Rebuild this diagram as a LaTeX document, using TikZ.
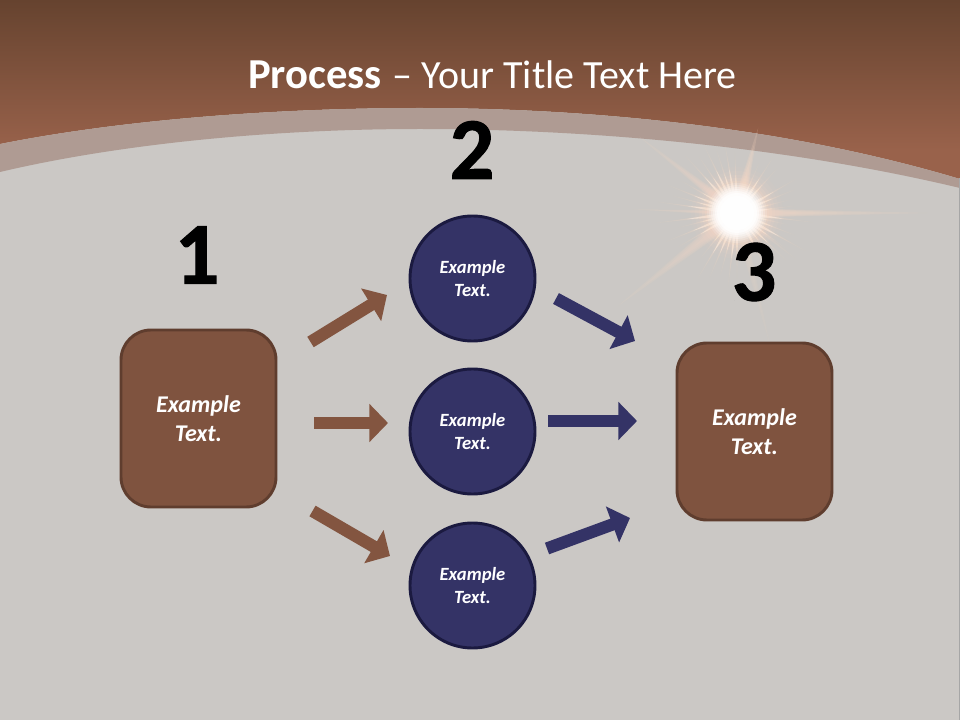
\documentclass[tikz,border=0pt]{standalone}
\usepackage{fontspec}
\setmainfont{Carlito}
\usetikzlibrary{arrows.meta}
\definecolor{bgc}{HTML}{CBC8C5}
\definecolor{brownf}{HTML}{7F533F}
\definecolor{brownl}{HTML}{5F3D2E}
\definecolor{arrowb}{HTML}{835540}
\definecolor{navyf}{HTML}{343366}
\definecolor{navyl}{HTML}{1B1A40}
\definecolor{rayc}{HTML}{FFDCC4}
\definecolor{rayw}{HTML}{FFF6EC}
\definecolor{headt}{HTML}{66432F}
\definecolor{headb}{HTML}{99624B}
\definecolor{bandc}{HTML}{AF9B93}
\tikzset{
  x=0.75pt,y=-0.75pt,
  boxnode/.style={draw=brownl,line width=2.2pt,fill=brownf,rounded corners=22.5pt,minimum width=116.25pt,minimum height=132.75pt,inner sep=0pt,align=center,text=white,font=\fontsize{18}{21.75}\selectfont\bfseries\itshape},
  circnode/.style={circle,draw=navyl,line width=2.2pt,fill=navyf,minimum size=93.75pt,inner sep=0pt,align=center,text=white,font=\fontsize{14}{17.25}\selectfont\bfseries\itshape},
  numnode/.style={inner sep=0pt,text=black,font=\fontsize{66}{70}\selectfont\bfseries\addfontfeature{FakeBold=1.2}},
  brownarrow/.style={draw=arrowb,line width=9.2pt,-{Triangle[length=14pt,width=28pt]}},
  navyarrow/.style={draw=navyf,line width=9.2pt,-{Triangle[length=14pt,width=28pt]}}
}
\begin{document}
\begin{tikzpicture}
\useasboundingbox (0,0) rectangle (960,720);
\fill[bgc] (0,0) rectangle (960,720);
% header
\begin{scope}
\clip (0,0) -- (960,0) -- (960,179) .. controls (780,125) and (580,108) .. (420,108) .. controls (260,108) and (110,122) .. (0,144) -- cycle;
\shade[top color=headt,bottom color=headb] (0,0) rectangle (960,150);
\fill[headb] (0,150) rectangle (960,180);
\end{scope}
% band
\fill[bandc] (0,144) .. controls (110,122) and (260,108) .. (420,108) .. controls (580,108) and (780,125) .. (960,179) -- (960,188) .. controls (780,145) and (580,129) .. (420,129) .. controls (260,129) and (110,146) .. (0,172) -- cycle;
% sun
\begin{scope}[shift={(737,213)}]
% long soft streaks
\foreach \a/\l/\w/\o in {76/88/7/.18, 142/125/6/.11, -142/150/8/.10, 0/190/5/.13, 178/105/3/.10, -76/135/6/.06, -38/75/3/.07}{
  \foreach \f in {1,.8,.62,.48,.36}{
    \fill[rayc,opacity=\o,rotate=\a] (0,-\w) -- (\l*\f,0) -- (0,\w) -- cycle;
  }
}
% fine rays
\foreach \a/\l in {-62/72,-52/55,-44/68,-36/60,-29/78,-21/62,-13/52,-90/66,-97/74,-105/64,-113/70,-121/76,-129/58,-150/68,-158/76,-166/60,-173/82,
  -7/76,7/58,172/80,165/66,158/74,150/64,132/78,124/68,116/76,108/66,100/72,92/62,66/54,57/66,48/60,30/68,22/62,14/54}{
  \foreach \f/\o in {1/.10,.8/.14,.6/.18}{
    \fill[rayc,opacity=\o,rotate=\a] (0,-2.4) -- (\l*\f,0) -- (0,2.4) -- cycle;
  }
  \fill[rayw,opacity=.5,rotate=\a] (0,-3) -- (\l*.62,0) -- (0,3) -- cycle;
}
\foreach \r/\o in {46/.04,42/.07,38/.10,35/.13,32/.16}{
  \fill[rayc,opacity=\o] (0,0) circle (\r);
}
\foreach \r/\o in {30/.15,28/.2,26/.3,24/.35,22/.5,20/.7,17/.9}{
  \fill[white,opacity=\o] (0,0) circle (\r);
}
\end{scope}
\draw[black!35,line width=.75pt] (959.5,178) -- (959.5,720);
% title
\node[inner sep=0pt,text=white,font=\fontsize{30}{34}\selectfont] (title) at (492.5,75) {{\fontsize{32}{34}\selectfont\bfseries Process}\kern1.5pt{} – Your Title Text Here};
% numbers
\node[numnode] (n1) at (197,255) {1};
\node[numnode] (n2) at (472,150) {2};
\node[numnode] (n3) at (754,272) {3};
% shapes
\node[boxnode] (box1) at (198.5,418.5) {Example\\Text.};
\node[boxnode] (box3) at (754.5,431.5) {Example\\Text.};
\node[circnode] (c1) at (472.5,278.5) {Example\\Text.};
\node[circnode] (c2) at (472.5,431.5) {Example\\Text.};
\node[circnode] (c3) at (472.5,585.5) {Example\\Text.};
% arrow ends
\coordinate (a1s) at (310.5,342);
\coordinate (a1e) at (387,295);
\coordinate (a2s) at (314,423);
\coordinate (a2e) at (388,423);
\coordinate (a3s) at (312.5,511);
\coordinate (a3e) at (390,556);
\coordinate (b1s) at (556,298.5);
\coordinate (b1e) at (635,341);
\coordinate (b2s) at (548,421);
\coordinate (b2e) at (637,421);
\coordinate (b3s) at (547,548.5);
\coordinate (b3e) at (630,518);
\draw[brownarrow] (a1s) -- (a1e);
\draw[brownarrow] (a2s) -- (a2e);
\draw[brownarrow] (a3s) -- (a3e);
\draw[navyarrow] (b1s) -- (b1e);
\draw[navyarrow] (b2s) -- (b2e);
\draw[navyarrow] (b3s) -- (b3e);
\end{tikzpicture}
\end{document}
